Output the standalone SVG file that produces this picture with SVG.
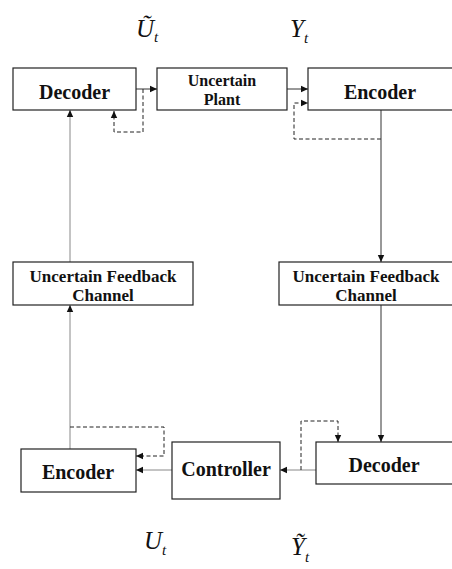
<svg xmlns="http://www.w3.org/2000/svg" width="452" height="569" viewBox="0 0 452 569">
<style>
.box{fill:#fff;stroke:#222;stroke-width:1.2}
.lbl{font-family:"Liberation Serif","Times New Roman",serif;font-weight:bold;fill:#111;text-anchor:middle}
.sym{font-family:"Liberation Serif","Times New Roman",serif;font-style:italic;fill:#111}
.ln{fill:none;stroke:#333;stroke-width:1}
.lg{fill:none;stroke:#888;stroke-width:1}
.dash{fill:none;stroke:#222;stroke-width:1;stroke-dasharray:4,2.5}
</style>
<defs>
<marker id="ah" markerWidth="8" markerHeight="8" refX="7" refY="4" orient="auto" markerUnits="userSpaceOnUse">
<path d="M0,0.8 L7,4 L0,7.2 Z" fill="#111"/>
</marker>
</defs>
<rect width="452" height="569" fill="#fff"/>
<g id="connectors">
<path class="ln" d="M136,89 H157" marker-end="url(#ah)"/>
<path class="dash" d="M143,89 V132 H114 V111" marker-end="url(#ah)"/>
<path class="ln" d="M287,89 H308" marker-end="url(#ah)"/>
<path class="dash" d="M381,139 H294 V103 H308" marker-end="url(#ah)"/>
<path class="lg" d="M70,262 V110" marker-end="url(#ah)"/>
<path class="ln" d="M381,110 V262" marker-end="url(#ah)"/>
<path class="lg" d="M70,449 V305" marker-end="url(#ah)"/>
<path class="ln" d="M381,305 V442" marker-end="url(#ah)"/>
<path class="dash" d="M70,427 H164 V456 H136" marker-end="url(#ah)"/>
<path class="lg" d="M172,470 H136" marker-end="url(#ah)"/>
<path class="lg" d="M316,470 H280" marker-end="url(#ah)"/>
<path class="dash" d="M301,470 V421 H338 V442" marker-end="url(#ah)"/>
</g>
<g id="decoder-top">
<rect class="box" x="13" y="68" width="123" height="42"/>
<text class="lbl" x="74.5" y="99" font-size="20">Decoder</text>
</g>
<g id="plant">
<rect class="box" x="157" y="68" width="130" height="42"/>
<text class="lbl" x="222" y="86" font-size="16">Uncertain</text>
<text class="lbl" x="222" y="105" font-size="16">Plant</text>
</g>
<g id="encoder-top">
<rect class="box" x="308" y="68" width="150" height="42"/>
<text class="lbl" x="380" y="99" font-size="20">Encoder</text>
</g>
<g id="channel-left">
<rect class="box" x="13" y="262" width="180" height="43"/>
<text class="lbl" x="103" y="282" font-size="17">Uncertain Feedback</text>
<text class="lbl" x="103" y="301" font-size="17">Channel</text>
</g>
<g id="channel-right">
<rect class="box" x="279" y="262" width="179" height="43"/>
<text class="lbl" x="366" y="282" font-size="17">Uncertain Feedback</text>
<text class="lbl" x="366" y="301" font-size="17">Channel</text>
</g>
<g id="encoder-bottom">
<rect class="box" x="21" y="449" width="115" height="43"/>
<text class="lbl" x="78" y="479" font-size="20">Encoder</text>
</g>
<g id="controller">
<rect class="box" x="172" y="442" width="108" height="57"/>
<text class="lbl" x="226" y="476" font-size="20">Controller</text>
</g>
<g id="decoder-bottom">
<rect class="box" x="316" y="442" width="142" height="42"/>
<text class="lbl" x="384" y="472" font-size="20">Decoder</text>
</g>
<g id="labels">
<text class="sym" x="136" y="37" font-size="25">Ũ<tspan font-size="15" dy="5">t</tspan></text>
<text class="sym" x="290" y="37" font-size="25">Y<tspan font-size="15" dy="6">t</tspan></text>
<text class="sym" x="144" y="549" font-size="25">U<tspan font-size="15" dy="6">t</tspan></text>
<text class="sym" x="291" y="555" font-size="25">Ỹ<tspan font-size="15" dy="7">t</tspan></text>
</g>
</svg>
